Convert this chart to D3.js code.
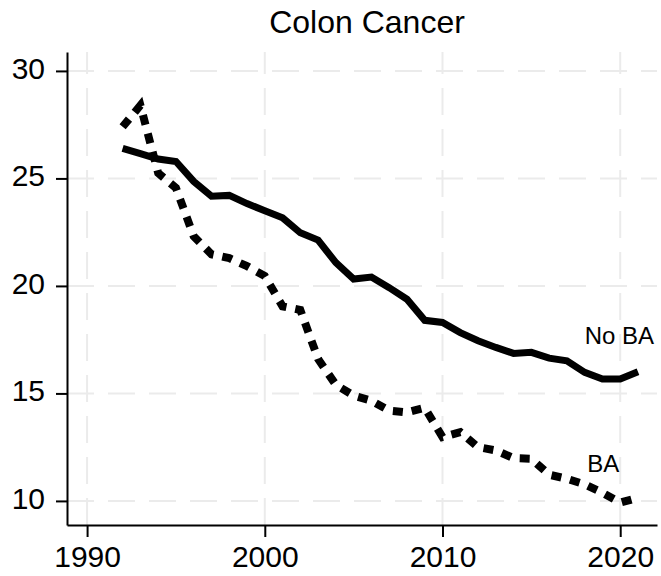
<!DOCTYPE html>
<html>
<head>
<meta charset="utf-8">
<script src="https://cdn.jsdelivr.net/npm/d3@7"></script>
<style>
	body{margin:0;background:#fff;}
	svg{display:block;font-family:"Liberation Sans",Arial,Helvetica,sans-serif;}
	.axis path,.axis line{stroke:#000;stroke-width:2px;}
	.axis text{fill:#000;font-size:30px;}
	.grid line{stroke:#ebebeb;stroke-width:2px;stroke-dasharray:27,14;}
</style>
</head>
<body>
<div id="chart"></div>
<script>
// data
var years=[1992,1993,1994,1995,1996,1997,1998,1999,2000,2001,2002,2003,2004,2005,2006,
	2007,2008,2009,2010,2011,2012,2013,2014,2015,2016,2017,2018,2019,2020,2021];
var noBA=[26.4,26.15,25.9,25.79,24.86,24.17,24.21,23.83,23.5,23.17,22.47,22.13,21.08,20.32,20.41,
	19.92,19.38,18.4,18.3,17.83,17.45,17.14,16.86,16.91,16.64,16.52,15.98,15.67,15.67,16.01];
var BA=[27.4,28.4,25.25,24.56,22.31,21.47,21.29,20.92,20.46,19.05,18.88,16.6,15.4,14.9,14.66,
	14.2,14.12,14.33,12.97,13.2,12.5,12.35,11.99,11.96,11.22,11.03,10.77,10.38,9.92,10.15];
var xticks=[1990,2000,2010,2020];
var yticks=[10,15,20,25,30];
var title="Colon Cancer";

var width=661;
var height=576;
var plotl=67,plotr=657,plott=52,plotb=525;

var svg=d3.select("#chart")
		.append("svg")
		.attr("width", width)
		.attr("height", height);

var x=d3.scaleLinear().domain([1988.87,2022.07]).range([plotl,plotr]);
var y=d3.scaleLinear().domain([8.88,30.88]).range([plotb,plott]);

// grid
var grid=svg.append("g").attr("class","grid");
grid.selectAll("line.h")
	.data(yticks)
	.enter().append("line")
	.attr("class","h")
	.attr("x1",plotl).attr("x2",plotr)
	.attr("y1",function(d){return y(d);})
	.attr("y2",function(d){return y(d);});
grid.selectAll("line.v")
	.data(xticks)
	.enter().append("line")
	.attr("class","v")
	.attr("x1",function(d){return x(d);})
	.attr("x2",function(d){return x(d);})
	.attr("y1",plotb).attr("y2",plott);

// lines
var line=d3.line()
	.x(function(d,i){return x(years[i]);})
	.y(function(d){return y(d);});

svg.append("path")
	.datum(noBA)
	.attr("d",line)
	.style("fill","none")
	.style("stroke","#000")
	.style("stroke-width",7);

svg.append("path")
	.datum(BA)
	.attr("d",line)
	.style("fill","none")
	.style("stroke","#000")
	.style("stroke-width",8)
	.style("stroke-dasharray","10,9");

// axes
svg.append("g")
	.attr("class","x axis")
	.attr("transform","translate(0,"+plotb+")")
	.call(d3.axisBottom(x).tickValues(xticks).tickFormat(d3.format("d")).tickSize(12).tickSizeOuter(0).tickPadding(9));
svg.append("g")
	.attr("class","y axis")
	.attr("transform","translate("+plotl+",0)")
	.call(d3.axisLeft(y).tickValues(yticks).tickSize(11).tickSizeOuter(0).tickPadding(11));
svg.selectAll(".y.axis text").attr("dy","0.25em");

// labels
svg.append("text")
	.attr("x",x(2018.0))
	.attr("y",y(17.29))
	.style("font-size","24px")
	.text("No BA");
svg.append("text")
	.attr("x",x(2018.15))
	.attr("y",y(11.36))
	.style("font-size","24px")
	.text("BA");

svg.append("text")
	.attr("x",367)
	.attr("y",33)
	.attr("text-anchor","middle")
	.style("font-size","32px")
	.text(title);
</script>
</body>
</html>
